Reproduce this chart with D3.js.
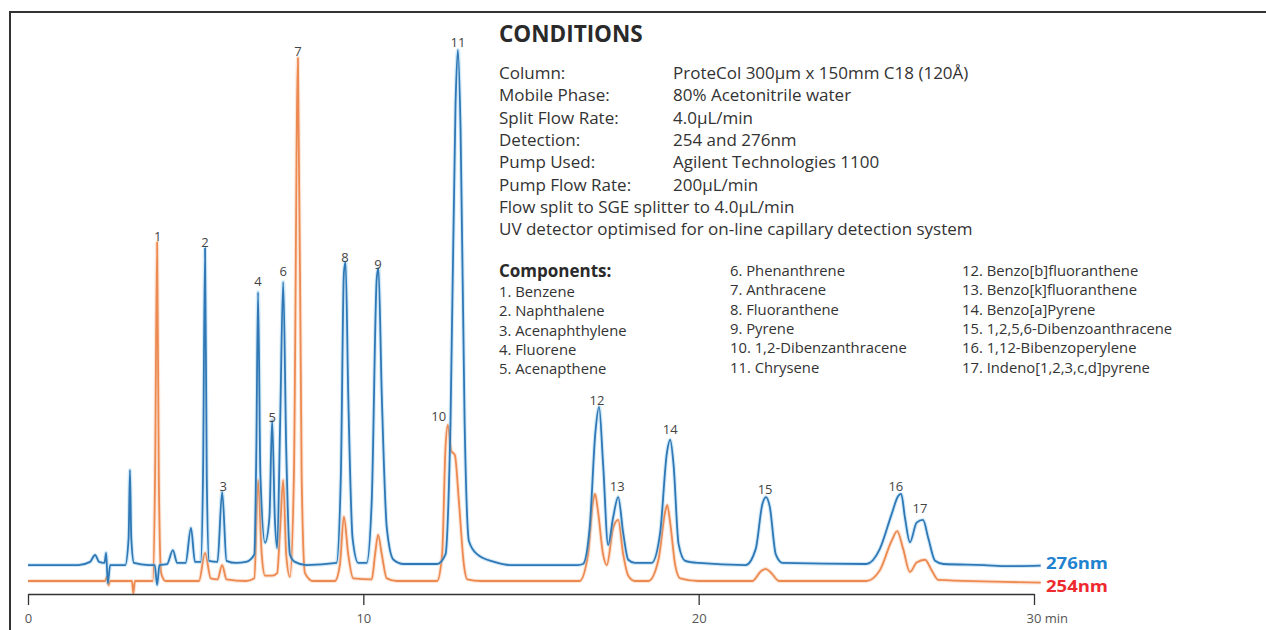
<!DOCTYPE html>
<html>
<head>
<meta charset="utf-8">
<script src="https://cdn.jsdelivr.net/npm/d3@7"></script>
<style>
  html, body { margin: 0; padding: 0; background: #fff; }
  svg { display: block; }
  text { font-family: "Open Sans", "Noto Sans", sans-serif; }
</style>
</head>
<body>
<svg id="chart"></svg>
<script>
// ---- data: [time (min), signal (mAU)] ----
const trace276 = [
  [0, 3.0], [1.5, 3.0], [1.85, 3.6], [2.0, 4.9], [2.12, 3.6], [2.28, 3.4],
  [2.33, 5.3], [2.38, -0.4], [2.45, 3.0], [2.9, 3.0],
  [3.0, 8], [3.04, 20.9], [3.08, 8], [3.16, 3.4], [3.6, 3.0],
  [3.78, 3.0], [3.85, -0.75], [3.92, 3.0],
  [4.15, 3.2], [4.32, 5.8], [4.45, 3.4], [4.7, 3.4], [4.86, 10.0], [4.98, 3.6],
  [5.15, 3.6], [5.22, 20], [5.28, 62.7], [5.33, 20], [5.4, 3.8],
  [5.65, 3.6], [5.79, 16.8], [5.92, 3.8],
  [6.2, 3.4], [6.5, 3.6], [6.75, 5], [6.81, 25], [6.86, 54.4], [6.93, 20], [7.07, 7.2],
  [7.2, 12], [7.28, 30.3], [7.36, 12], [7.43, 6.2],
  [7.52, 30], [7.61, 56.3], [7.7, 25], [7.81, 5.0], [7.96, 3.6], [8.3, 3.0],
  [9.2, 3.4], [9.33, 20], [9.42, 58], [9.47, 60.1], [9.55, 35], [9.68, 8], [9.85, 3.4],
  [10.1, 3.4], [10.25, 15], [10.4, 57], [10.45, 58.9], [10.55, 35], [10.7, 10], [10.9, 4], [11.2, 3.2],
  [12.2, 3.2], [12.45, 5], [12.6, 30], [12.75, 90], [12.82, 100], [12.9, 85], [13.02, 30],
  [13.15, 7.5], [13.4, 5], [13.9, 3.6], [14.4, 3.0], [16.4, 3.0],
  [16.55, 3.2], [16.75, 10], [16.92, 28], [17.03, 32.8], [17.15, 22], [17.3, 6.8],
  [17.45, 12], [17.6, 15.8], [17.75, 9], [17.9, 4], [18.1, 3.4],
  [18.6, 3.4], [18.85, 9], [19.05, 24], [19.15, 26.6], [19.25, 22], [19.4, 7], [19.6, 3.8], [20, 3.4],
  [21.4, 3.0], [21.7, 6], [21.9, 14.5], [22.01, 15.8], [22.12, 14], [22.3, 5], [22.5, 3.4],
  [25.0, 3.2], [25.4, 6], [25.75, 12.5], [25.95, 16], [26.04, 16.4], [26.15, 12], [26.3, 7.3],
  [26.5, 11], [26.69, 11.5], [26.85, 8], [27.05, 3.8], [27.3, 3.2], [28.5, 3.0], [29.2, 2.8], [30.2, 2.9]
]

const trace254 = [
  [0, 0], [2.3, 0], [2.36, 0.8], [2.4, -0.8], [2.45, 0], [3.1, 0], [3.14, -2.3], [3.19, 0],
  [3.72, 0], [3.79, 20], [3.85, 63.8], [3.9, 20], [3.97, 1.5], [4.1, 0],
  [5.1, 0], [5.28, 5.3], [5.45, 0.5], [5.65, 0.3], [5.79, 3.0], [5.92, 0.3],
  [6.5, 0], [6.75, 0.5], [6.86, 19], [6.97, 5], [7.07, 1.0], [7.28, 1.0], [7.43, 1.5],
  [7.52, 10], [7.61, 19], [7.7, 5], [7.81, 0.8],
  [7.93, 20], [8.05, 98.5], [8.16, 20], [8.26, 1.5], [8.5, 0],
  [9.15, 0], [9.3, 3], [9.42, 12.1], [9.55, 5], [9.7, 0.5],
  [10.25, 0.3], [10.35, 5], [10.44, 8.7], [10.55, 5], [10.7, 0.5], [11, 0],
  [12.2, 0], [12.35, 5], [12.45, 25], [12.52, 29.4], [12.62, 24.5], [12.73, 23.7],
  [12.85, 15], [13.0, 3], [13.1, 0.3], [13.5, 0],
  [16.45, 0], [16.7, 5], [16.85, 15], [16.91, 16.4], [17.0, 13], [17.15, 5], [17.26, 3.0],
  [17.45, 10], [17.6, 11.5], [17.75, 5], [17.9, 1], [18.1, 0],
  [18.5, 0], [18.8, 4], [19.0, 13], [19.06, 14.3], [19.15, 11], [19.3, 3], [19.45, 0.5], [20, 0],
  [21.6, 0], [21.85, 1.8], [22.0, 2.3], [22.15, 1.6], [22.4, 0],
  [25.0, 0], [25.4, 2], [25.75, 7.5], [25.92, 9.4], [26.1, 6], [26.3, 1.7],
  [26.5, 3.5], [26.75, 4.0], [26.95, 2], [27.15, 0.2], [30.2, -0.3]
]

// peak numbers and where they sit (time, signal)
const peakLabels = [
  ["1", 3.87, 64.0], ["2", 5.28, 62.9], ["3", 5.82, 17.0], ["4", 6.86, 55.5], ["5", 7.28, 29.9],
  ["6", 7.61, 57.4], ["7", 8.05, 98.9], ["8", 9.45, 60.1], ["9", 10.44, 58.8], ["10", 12.25, 30.1],
  ["11", 12.82, 100.6], ["12", 16.97, 33.1], ["13", 17.57, 17.0], ["14", 19.15, 27.7],
  ["15", 21.98, 16.4], ["16", 25.88, 17.0], ["17", 26.6, 12.8]
]

const xTicks = [0, 10, 20, 30]
const seriesNames = ["276nm", "254nm"]

const conditionLabels = ["Column:", "Mobile Phase:", "Split Flow Rate:", "Detection:", "Pump Used:", "Pump Flow Rate:"]
const conditionValues = ["ProteCol 300µm x 150mm C18 (120Å)", "80% Acetonitrile water", "4.0µL/min",
  "254 and 276nm", "Agilent Technologies 1100", "200µL/min"]
const conditionNotes = ["Flow split to SGE splitter to 4.0µL/min", "UV detector optimised for on-line capillary detection system"]

const components = [
  "1. Benzene", "2. Naphthalene", "3. Acenaphthylene", "4. Fluorene", "5. Acenapthene",
  "6. Phenanthrene", "7. Anthracene", "8. Fluoranthene", "9. Pyrene", "10. 1,2-Dibenzanthracene", "11. Chrysene",
  "12. Benzo[b]fluoranthene", "13. Benzo[k]fluoranthene", "14. Benzo[a]Pyrene", "15. 1,2,5,6-Dibenzoanthracene",
  "16. 1,12-Bibenzoperylene", "17. Indeno[1,2,3,c,d]pyrene"
]

// ---- drawing ----
const width = 1266, height = 630
const svg = d3.select('#chart').attr('width', width).attr('height', height)

const x = d3.scaleLinear().domain([0, 30]).range([28, 1034])
const y = d3.scaleLinear().domain([0, 100]).range([581, 50])

// frame (left and top edges)
svg.append('path')
  .attr('d', `M10,${height}V12H${width}`)
  .attr('fill', 'none')
  .attr('stroke', '#333')
  .attr('stroke-width', 2)

const line = d3.line()
  .x(d => x(d[0]))
  .y(d => y(d[1]))
  .curve(d3.curveMonotoneX)

function drawTrace(data, halo, core) {
  const g = svg.append('g')
  g.append('path').datum(data).attr('d', line)
    .attr('fill', 'none').attr('stroke', halo).attr('stroke-width', 4).attr('stroke-opacity', 0.35)
    .attr('stroke-linejoin', 'round')
  g.append('path').datum(data).attr('d', line)
    .attr('fill', 'none').attr('stroke', core).attr('stroke-width', 1.8)
    .attr('stroke-linejoin', 'round')
}

drawTrace(trace254, '#f6b48a', '#ec8a52')
drawTrace(trace276, '#7cc0ea', '#2f78b5')

// peak numbers
svg.append('g').selectAll('text')
  .data(peakLabels)
  .enter().append('text')
  .attr('x', d => x(d[1]))
  .attr('y', d => y(d[2]))
  .attr('text-anchor', 'middle')
  .attr('font-size', 13)
  .attr('fill', '#444')
  .text(d => d[0])

// x axis
const axis = svg.append('g')
  .attr('transform', 'translate(0,594)')
  .call(d3.axisBottom(x).tickValues(xTicks).tickSize(11).tickPadding(9).tickSizeOuter(0))
axis.select('.domain').attr('stroke', '#333').attr('stroke-width', 1.3)
axis.selectAll('.tick line').attr('stroke', '#333').attr('stroke-width', 1.3)
axis.selectAll('.tick text')
  .attr('font-family', '"Open Sans", sans-serif')
  .attr('font-size', 13).attr('fill', '#555')
axis.selectAll('.tick text').filter(d => d === 30)
  .attr('text-anchor', 'start').attr('x', -8).text('30 min')

// series labels
svg.append('g').selectAll('text')
  .data(seriesNames)
  .enter().append('text')
  .attr('x', 1046)
  .attr('y', (d, i) => i === 0 ? 569 : 592)
  .attr('font-family', '"Liberation Sans", sans-serif')
  .attr('font-size', 16).attr('font-weight', 700)
  .attr('textLength', 62).attr('lengthAdjust', 'spacingAndGlyphs')
  .attr('fill', (d, i) => i === 0 ? '#1f83cf' : '#ee2a2f')
  .text(d => d)

// conditions block
const info = svg.append('g').attr('fill', '#333')
info.append('text').attr('x', 499).attr('y', 42)
  .attr('font-size', 22.5).attr('font-weight', 700).attr('fill', '#2a2a2a')
  .text('CONDITIONS')

conditionLabels.forEach((label, i) => {
  info.append('text').attr('x', 499).attr('y', 79 + i * 22.3).attr('font-size', 17).text(label)
  info.append('text').attr('x', 673).attr('y', 79 + i * 22.3).attr('font-size', 17).text(conditionValues[i])
})
conditionNotes.forEach((note, i) => {
  info.append('text').attr('x', 499).attr('y', 213 + i * 22.3).attr('font-size', 17).text(note)
})

// components list
info.append('text').attr('x', 499).attr('y', 277).attr('fill', '#2a2a2a')
  .attr('font-size', 17).attr('font-weight', 700).text('Components:')
const columns = [[0, 5, 499, 297], [5, 11, 730, 276], [11, 17, 962, 276]]
columns.forEach(([from, to, cx, cy]) => {
  components.slice(from, to).forEach((c, i) => {
    info.append('text').attr('x', cx).attr('y', cy + i * 19.3)
      .attr('font-size', 14.8).text(c)
  })
})
</script>
</body>
</html>
